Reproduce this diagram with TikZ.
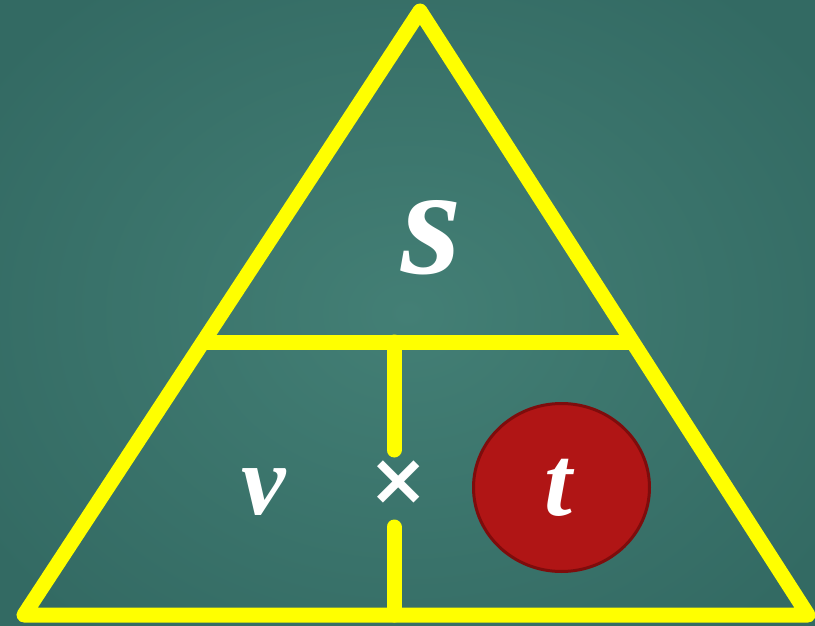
\documentclass[tikz,border=0pt]{standalone}
\usepackage{fontspec}
\setmainfont{Liberation Serif}
\newfontfamily\symfont{DejaVu Sans}
\usetikzlibrary{shapes.geometric}
\definecolor{bgin}{HTML}{437F75}
\definecolor{bgout}{HTML}{336A63}
\definecolor{yel}{HTML}{FFFF00}
\definecolor{cred}{HTML}{B01515}
\definecolor{cdark}{HTML}{7E0C0C}
\tikzset{
  yline/.style={draw=yel, line width=15pt, line join=round, line cap=round},
  var/.style={text=white, inner sep=0pt, font=\bfseries\itshape},
}
\begin{document}
\begin{tikzpicture}[x=1pt,y=-1pt]
\useasboundingbox (0,0) rectangle (815,626);
\clip (0,0) rectangle (815,626);
\shade[inner color=bgin, outer color=bgout] (-100,-100) rectangle (915,726);
\coordinate (A) at (420,11);
\coordinate (BL) at (24,615);
\coordinate (BR) at (808,615);
\coordinate (HL) at (205,342);
\coordinate (HR) at (630,342);
\coordinate (VT) at (394,342);
\coordinate (VM1) at (394,450);
\coordinate (VM2) at (394,527);
\coordinate (VB) at (394,615);
\draw[yline] (A) -- (BL) -- (BR) -- cycle;
\draw[yline] (HL) -- (HR);
\draw[yline] (VT) -- (VM1);
\draw[yline] (VM2) -- (VB);
\node[ellipse, draw=cdark, fill=cred, line width=3pt, minimum width=176pt, minimum height=168pt, inner sep=0pt] (circ) at (561.5,487.5) {};
\node[var, font=\fontsize{155}{155}\selectfont\bfseries\itshape] (s) at (432,238) {s};
\node[var, font=\fontsize{100}{100}\selectfont\bfseries\itshape] (v) at (264,492) {v};
\node[var, font=\fontsize{100}{100}\selectfont\bfseries\itshape] (t) at (558,488) {t};
\node[text=white, inner sep=0pt, font=\symfont\fontsize{72}{72}\selectfont\bfseries] (x) at (398.5,482.5) {×};
\end{tikzpicture}
\end{document}
